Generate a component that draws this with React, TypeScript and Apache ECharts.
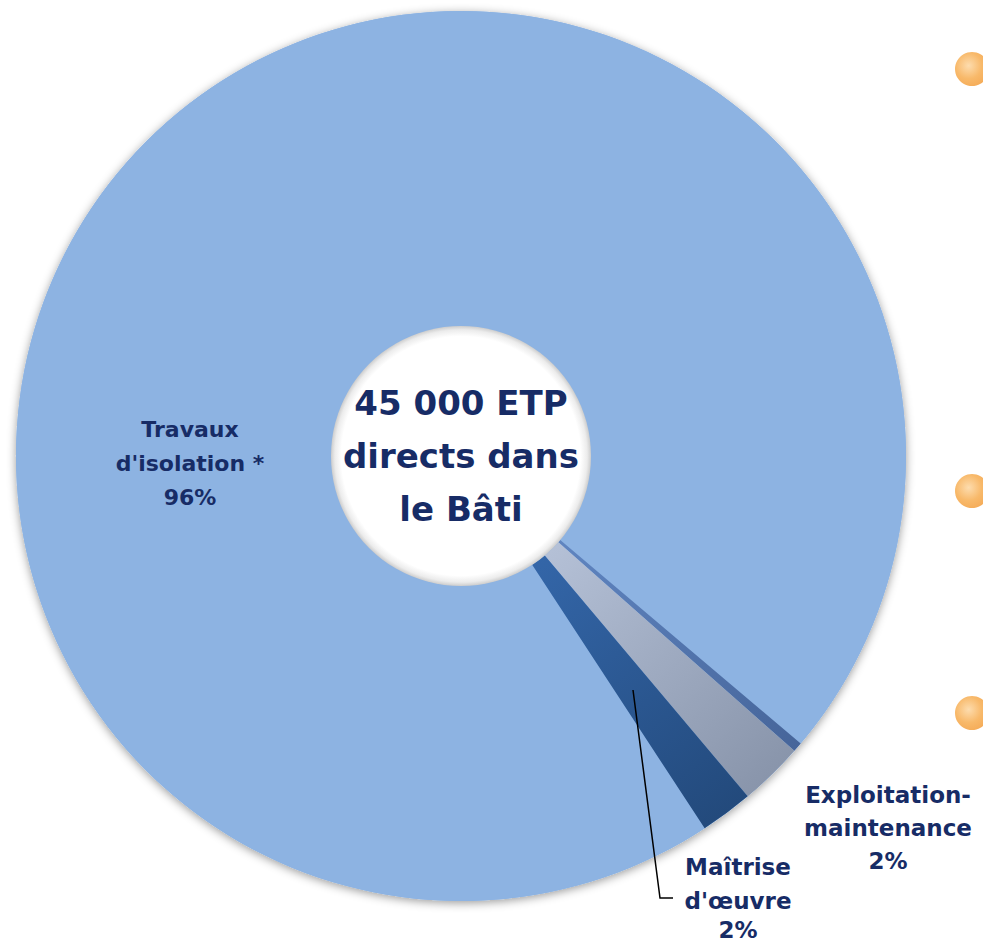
import React, { useEffect, useRef } from "react";
import * as echarts from "echarts";

// Data (shares)
const categories = ["Travaux d'isolation *", "Autres", "Exploitation-maintenance", "Maîtrise d'œuvre"];
const labelNames = ["Travaux\nd'isolation *", "", "Exploitation-\nmaintenance", "Maîtrise\nd'œuvre"];
const shares = [95.4, 0.35, 2.33, 1.92];
const shownPercents = ["96%", "", "2%", "2%"];
const centerText = "45 000 ETP\ndirects dans\nle Bâti";

const NAVY = "#172C66";
const CX = 461;
const CY = 456;
const R_OUT = 445;
const R_IN = 130;

function radialDir(deg: number, stops: [number, string][]) {
  const a = (deg * Math.PI) / 180;
  return {
    type: "linear",
    x: CX,
    y: CY,
    x2: CX + R_OUT * Math.cos(a),
    y2: CY + R_OUT * Math.sin(a),
    global: true,
    colorStops: stops.map(([offset, color]) => ({ offset, color })),
  };
}

const sliceColors: any[] = [
  "#8DB3E2",
  radialDir(41, [[0, "#6a92d0"], [1, "#46659a"]]),
  radialDir(46, [[0, "#c6d2e8"], [1, "#8995ab"]]),
  radialDir(53, [[0, "#3a71ba"], [1, "#234a7c"]]),
];

function bullet(cy: number) {
  return {
    type: "circle",
    z: 100,
    shape: { cx: 972, cy, r: 17 },
    style: {
      fill: {
        type: "radial",
        x: 0.4,
        y: 0.4,
        r: 0.7,
        colorStops: [
          { offset: 0, color: "#fddcae" },
          { offset: 0.55, color: "#f8b96a" },
          { offset: 1, color: "#f4a955" },
        ],
      },
    },
  };
}

export default function App() {
  const ref = useRef<HTMLDivElement>(null);
  useEffect(() => {
    if (!ref.current) return;
    const chart = echarts.init(ref.current, null, { renderer: "svg" });
    const baseFont = {
      fontFamily: "DejaVu Sans",
      fontWeight: "bold" as const,
      color: NAVY,
    };
    const labelFor = (i: number) => {
      if (i === 3) {
        return {
          formatter: () =>
            labelNames[i]
              .split("\n")
              .map((l) => `{a|${l}}`)
              .join("\n") + `\n{p|${shownPercents[i]}}`,
          rich: {
            a: { ...baseFont, fontSize: 23, lineHeight: 34, align: "center" },
            p: { ...baseFont, fontSize: 23, lineHeight: 24, align: "center" },
          },
        };
      }
      return {
        formatter: () => `${labelNames[i]}\n${shownPercents[i]}`,
        ...baseFont,
        fontSize: i === 0 ? 22 : 23,
        lineHeight: i === 0 ? 34 : 33,
      };
    };
    chart.setOption({
      animation: false,
      backgroundColor: "#ffffff",
      graphic: [
        bullet(69),
        bullet(491),
        bullet(713),
        {
          type: "polyline",
          z: 100,
          shape: {
            points: [
              [633, 690],
              [660, 898],
              [673, 898],
            ],
          },
          style: { stroke: "#000000", lineWidth: 1.5, fill: null },
        },
      ],
      series: [
        {
          type: "pie",
          silent: true,
          z: 1,
          center: [CX, CY],
          radius: [0, R_OUT],
          label: { show: false },
          labelLine: { show: false },
          itemStyle: {
            color: "#8DB3E2",
            shadowBlur: 10,
            shadowColor: "rgba(0,0,0,0.4)",
            shadowOffsetY: 2,
          },
          data: [{ value: 1, name: "shadow" }],
        },
        {
          type: "pie",
          z: 2,
          center: [CX, CY],
          radius: [R_IN, R_OUT],
          startAngle: 303.2,
          clockwise: true,
          avoidLabelOverlap: false,
          labelLine: { show: false },
          data: categories.map((name, i) => ({
            name,
            value: shares[i],
            itemStyle: { color: sliceColors[i] },
            label: {
              show: shownPercents[i] !== "",
              position: "outside",
              align: "center",
              ...labelFor(i),
            },
          })),
          labelLayout: (params: any) => {
            if (params.dataIndex === 0) {
              return { x: 190, y: 463, align: "center", verticalAlign: "middle" };
            }
            if (params.dataIndex === 2) {
              return { x: 888, y: 828, align: "center", verticalAlign: "middle" };
            }
            if (params.dataIndex === 3) {
              return { x: 738, y: 896, align: "center", verticalAlign: "middle" };
            }
            return {};
          },
        },
        {
          type: "pie",
          silent: true,
          z: 3,
          center: [CX, CY],
          radius: [0, R_IN],
          labelLine: { show: false },
          label: {
            show: true,
            position: "center",
            formatter: centerText,
            fontFamily: "DejaVu Sans",
            fontWeight: "bold",
            fontSize: 34,
            lineHeight: 53,
            color: NAVY,
            padding: [20, 0, 0, 0],
          },
          itemStyle: {
            color: {
              type: "radial",
              x: 0.5,
              y: 0.5,
              r: 0.5,
              colorStops: [
                { offset: 0, color: "#ffffff" },
                { offset: 0.92, color: "#ffffff" },
                { offset: 0.97, color: "#ececec" },
                { offset: 1, color: "#cdcdcd" },
              ],
            },
          },
          data: [{ value: 1, name: "centre" }],
        },
      ],
    });
    return () => chart.dispose();
  }, []);
  return (
    <div
      ref={ref}
      style={{ position: "absolute", left: 0, top: 0, width: 983, height: 946 }}
    />
  );
}
